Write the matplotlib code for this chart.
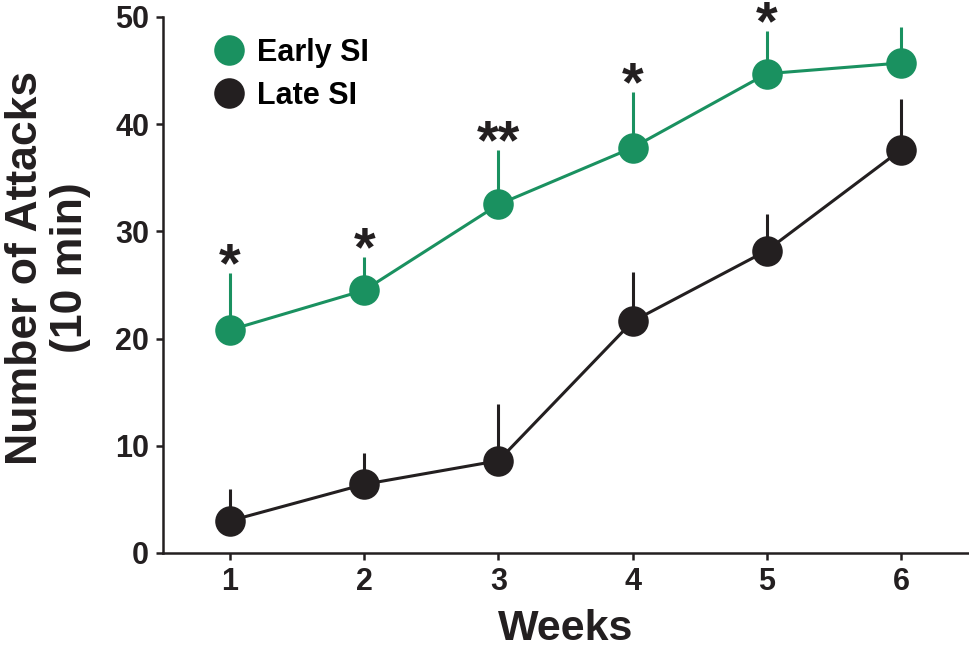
import numpy as np
import matplotlib
matplotlib.use('Agg')
import matplotlib.pyplot as plt

plt.rcParams['font.family'] = ['Liberation Sans', 'DejaVu Sans']
plt.rcParams['font.weight'] = 'bold'

weeks = [1, 2, 3, 4, 5, 6]
early_mean = [20.8, 24.5, 32.5, 37.8, 44.7, 45.7]
early_top = [26.1, 27.6, 37.6, 43.0, 48.7, 49.1]
late_mean = [3.0, 6.4, 8.6, 21.6, 28.2, 37.6]
late_top = [6.0, 9.3, 13.9, 26.2, 31.6, 42.3]
stars = ['*', '*', '**', '*', '*', '']

green = '#1a9160'
black = '#231f20'

fig = plt.figure(figsize=(9.7, 6.49), dpi=100)
ax = fig.add_axes([0.168, 0.148, 0.830, 0.826])

for mean, top, col, lab in [(early_mean, early_top, green, 'Early SI'),
                            (late_mean, late_top, black, 'Late SI')]:
    mean = np.array(mean)
    up = np.array(top) - mean
    ax.errorbar(weeks, mean, yerr=[np.zeros_like(up), up], fmt='none',
                ecolor=col, elinewidth=2.2, capsize=0, zorder=2)
    ax.plot(weeks, mean, '-', color=col, lw=2.2, zorder=2)
    # markers only, so the legend shows plain dots
    ax.plot(weeks, mean, 'o', color=col, markersize=22,
            markeredgewidth=0, label=lab, zorder=3)

# significance stars above the early SI error bars
for w, t, s in zip(weeks, early_top, stars):
    if s:
        ax.text(w, t - 0.75, s, ha='center', va='baseline', fontsize=40,
                fontweight='bold', color=black)

ax.set_xlim(0.5, 6.5)
ax.set_ylim(0, 50)
ax.set_xticks(weeks)
ax.set_yticks([0, 10, 20, 30, 40, 50])
ax.spines['top'].set_visible(False)
ax.spines['right'].set_visible(False)
for sp in ['left', 'bottom']:
    ax.spines[sp].set_linewidth(1.8)
    ax.spines[sp].set_color(black)
ax.tick_params(width=1.8, length=5, labelsize=22, colors=black, pad=5)
for lbl in ax.get_xticklabels() + ax.get_yticklabels():
    lbl.set_fontweight('bold')

ax.set_xlabel('Weeks', fontsize=31, fontweight='bold', color=black)
ax.xaxis.set_label_coords(0.5, -0.104)
ax.set_ylabel('Number of Attacks\n(10 min)', fontsize=32, fontweight='bold',
              color=black, linespacing=1.12)
ax.yaxis.set_label_coords(-0.09, 0.532)

ax.legend(loc='upper left', bbox_to_anchor=(0.063, 0.961), frameon=False,
          handlelength=1.0, handletextpad=0.41, borderpad=0, borderaxespad=0,
          labelspacing=0.42, prop={'weight': 'bold', 'size': 22})

fig.savefig('out.png', dpi=100)
